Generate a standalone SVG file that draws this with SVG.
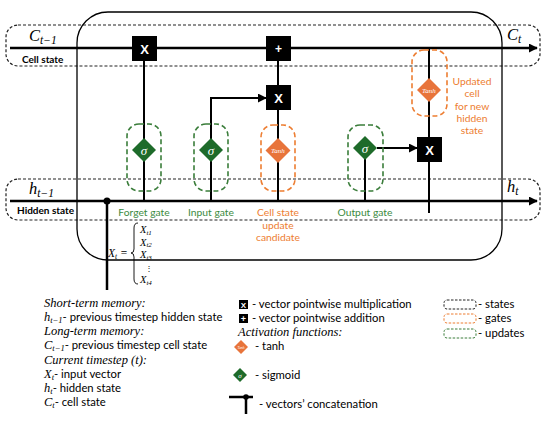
<svg xmlns="http://www.w3.org/2000/svg" width="550" height="423" viewBox="0 0 550 423">
<style>
.ln{stroke:#000;stroke-width:2;fill:none}
.tk{stroke:#000;stroke-width:2.5;fill:none}
.st{fill:none;stroke:#222;stroke-width:1.2;stroke-dasharray:3 2}
.gg{fill:none;stroke:#3a7d3a;stroke-width:1.6;stroke-dasharray:5 3}
.go{fill:none;stroke:#ed7d31;stroke-width:1.6;stroke-dasharray:5 3}
.bx{font-family:'Liberation Sans',sans-serif;font-weight:bold;fill:#fff;text-anchor:middle}
.m{font-family:'Liberation Serif',serif;font-style:italic}
.lab{font-family:Lato,'Liberation Sans',sans-serif}
.gt{fill:#3b8a3e}
.ot{fill:#ed7d31}
.dg{fill:#1e6b2a}
.do{fill:#e8743b}
.sg{font-family:'Liberation Serif',serif;font-style:italic;fill:#fff;text-anchor:middle}
</style>
<defs>
<marker id="ar" viewBox="0 0 10 10" refX="9" refY="5" markerWidth="9" markerHeight="9" markerUnits="userSpaceOnUse" orient="auto"><path d="M0,0L10,5L0,10z" fill="#000"/></marker>
</defs>

<g id="cell-state-region">
<rect class="st" x="6" y="25" width="534" height="41" rx="12"/>
<text class="m" x="29" y="41" font-size="16.5">C<tspan font-size="11.5" dy="3">t−1</tspan></text>
<text class="lab" x="22" y="63" font-size="10" font-weight="bold">Cell state</text>
<text class="m" x="507" y="40" font-size="16.5">C<tspan font-size="11.5" dy="3">t</tspan></text>
</g>
<g id="hidden-state-region">
<rect class="st" x="6" y="179" width="534" height="41" rx="12"/>
<text class="m" x="29" y="194" font-size="16.5">h<tspan font-size="11.5" dy="3">t−1</tspan></text>
<text class="lab" x="17" y="214" font-size="10" font-weight="bold">Hidden state</text>
<text class="m" x="507" y="192" font-size="16.5">h<tspan font-size="11.5" dy="3">t</tspan></text>
</g>
<g id="lstm-cell">
<rect x="77" y="12" width="425" height="248" rx="31" fill="none" stroke="#000" stroke-width="1.3"/>
</g>

<g id="connectors">
<line class="tk" x1="10" y1="48" x2="537" y2="48" marker-end="url(#ar)"/>
<line class="tk" x1="10" y1="201" x2="537" y2="201" marker-end="url(#ar)"/>
<line class="ln" x1="144" y1="60" x2="144" y2="201"/>
<polyline class="ln" points="211,201 211,98 266,98" marker-end="url(#ar)"/>
<line class="ln" x1="278" y1="48" x2="278" y2="201"/>
<line class="ln" x1="365" y1="148" x2="365" y2="201"/>
<line class="ln" x1="377" y1="148" x2="417" y2="148" marker-end="url(#ar)"/>
<line class="ln" x1="429" y1="48" x2="429" y2="213"/>
<line class="tk" x1="107" y1="201" x2="107" y2="290"/>
<circle cx="107" cy="201" r="3.5" fill="#000"/>
</g>

<g id="forget-mult">
<rect x="132" y="36" width="25" height="25" fill="#000"/>
<text class="bx" x="144.5" y="53.5" font-size="13">X</text>
</g>
<g id="add">
<rect x="266" y="36" width="25" height="25" fill="#000"/>
<text class="bx" x="278.5" y="53" font-size="12">+</text>
</g>
<g id="input-mult">
<rect x="266" y="85" width="25" height="25" fill="#000"/>
<text class="bx" x="278.5" y="102.5" font-size="13">X</text>
</g>
<g id="output-mult">
<rect x="417" y="137" width="25" height="25" fill="#000"/>
<text class="bx" x="429.5" y="154.5" font-size="13">X</text>
</g>

<g id="forget-gate">
<rect class="gg" x="127" y="124" width="34" height="67" rx="12"/>
<polygon class="dg" points="144,138 156,150 144,162 132,150"/>
<text class="sg" x="144" y="154.5" font-size="13">σ</text>
<text class="lab gt" x="144" y="216" font-size="10.3" text-anchor="middle">Forget gate</text>
</g>
<g id="input-gate">
<rect class="gg" x="194" y="124" width="34" height="67" rx="12"/>
<polygon class="dg" points="211,138 223,150 211,162 199,150"/>
<text class="sg" x="211" y="154.5" font-size="13">σ</text>
<text class="lab gt" x="211" y="216" font-size="10.3" text-anchor="middle">Input gate</text>
</g>
<g id="candidate-gate">
<rect class="go" x="261" y="125" width="34" height="66" rx="12"/>
<polygon class="do" points="278,138 290.5,150.5 278,163 265.5,150.5"/>
<text class="sg" x="278" y="153" font-size="7">Tanh</text>
<text class="lab ot" x="278" y="216" font-size="10.3" text-anchor="middle">Cell state</text>
<text class="lab ot" x="278" y="229" font-size="10.3" text-anchor="middle">update</text>
<text class="lab ot" x="278" y="241" font-size="10.3" text-anchor="middle">candidate</text>
</g>
<g id="output-gate">
<rect class="gg" x="348" y="125" width="35" height="66" rx="12"/>
<polygon class="dg" points="365,136 377,148 365,160 353,148"/>
<text class="sg" x="365" y="152.5" font-size="13">σ</text>
<text class="lab gt" x="365" y="216" font-size="10.3" text-anchor="middle">Output gate</text>
</g>
<g id="updated-cell">
<rect class="go" x="412" y="50" width="35" height="66" rx="12"/>
<polygon class="do" points="429,78 441,90 429,102 417,90"/>
<text class="sg" x="429" y="92.5" font-size="7">Tanh</text>
<g class="lab ot" font-size="10.3" text-anchor="middle">
<text x="472" y="85">Updated</text>
<text x="472" y="97">cell</text>
<text x="472" y="110">for new</text>
<text x="472" y="122">hidden</text>
<text x="472" y="134">state</text>
</g>
</g>

<g id="input-vector">
<text class="m" x="108" y="257" font-size="11.5">X<tspan font-size="7.5" dy="1.5">t</tspan><tspan dy="-1.5"> =</tspan></text>
<path d="M138,223 Q134,223 134,228 L134,249 Q134,253 131,253 Q134,253 134,257 L134,279 Q134,284 138,284" fill="none" stroke="#000" stroke-width="0.9"/>
<g class="m" font-size="10.5">
<text x="140" y="233">X<tspan font-size="7" dy="1.5">t1</tspan></text>
<text x="140" y="245.5">X<tspan font-size="7" dy="1.5">t2</tspan></text>
<text x="140" y="258">X<tspan font-size="7" dy="1.5">t3</tspan></text>
<text x="145" y="271" font-style="normal" font-size="8">⋮</text>
<text x="140" y="283">X<tspan font-size="7" dy="1.5">t4</tspan></text>
</g>
</g>

<g id="legend-memory" font-size="11.3">
<text class="m" x="44" y="307" font-size="12.5">Short-term memory:</text>
<text x="44" y="321"><tspan class="m" font-size="12.5">h</tspan><tspan class="m" font-size="8.5" dy="2">t−1</tspan><tspan class="lab" dy="-2">- previous timestep hidden state</tspan></text>
<text class="m" x="44" y="335" font-size="12.5">Long-term memory:</text>
<text x="44" y="349"><tspan class="m" font-size="12.5">C</tspan><tspan class="m" font-size="8.5" dy="2">t−1</tspan><tspan class="lab" dy="-2">- previous timestep cell state</tspan></text>
<text class="m" x="44" y="364" font-size="12.5">Current timestep (t):</text>
<text x="44" y="378"><tspan class="m" font-size="12.5">X</tspan><tspan class="m" font-size="8.5" dy="2">t</tspan><tspan class="lab" dy="-2">- input vector</tspan></text>
<text x="44" y="392"><tspan class="m" font-size="12.5">h</tspan><tspan class="m" font-size="8.5" dy="2">t</tspan><tspan class="lab" dy="-2">- hidden state</tspan></text>
<text x="44" y="406"><tspan class="m" font-size="12.5">C</tspan><tspan class="m" font-size="8.5" dy="2">t</tspan><tspan class="lab" dy="-2">- cell state</tspan></text>
</g>

<g id="legend-ops">
<rect x="239" y="300" width="9" height="9" fill="#000"/>
<text class="bx" x="243.5" y="308" font-size="8">X</text>
<text class="lab" x="252" y="308" font-size="11.3">- vector pointwise multiplication</text>
<rect x="239" y="314" width="9" height="9" fill="#000"/>
<text class="bx" x="243.5" y="322" font-size="9">+</text>
<text class="lab" x="252" y="322" font-size="11.3">- vector pointwise addition</text>
<text class="m" x="238" y="336" font-size="12.5">Activation functions:</text>
<polygon class="do" points="241,340 248,347 241,354 234,347"/>
<text class="sg" x="241" y="348.5" font-size="3.5">Tanh</text>
<text class="lab" x="255" y="350" font-size="11.3">- tanh</text>
<polygon class="dg" points="240,368 247,375 240,382 233,375"/>
<text class="sg" x="240" y="377.5" font-size="7">σ</text>
<text class="lab" x="255" y="379" font-size="11.3">- sigmoid</text>
<line class="tk" x1="229" y1="397" x2="253" y2="397"/>
<line class="tk" x1="246" y1="397" x2="246" y2="414"/>
<circle cx="246" cy="397" r="2.8" fill="#000"/>
<text class="lab" x="259" y="408" font-size="11.3">- vectors’ concatenation</text>
</g>

<g id="legend-styles">
<rect x="444" y="300" width="32" height="9" rx="3" fill="none" stroke="#222" stroke-width="1" stroke-dasharray="2.5 1.5"/>
<text class="lab" x="478" y="308" font-size="11.3">- states</text>
<rect x="444" y="314" width="32" height="9" rx="3" fill="none" stroke="#ed7d31" stroke-width="1" stroke-dasharray="2.5 1.5"/>
<text class="lab" x="478" y="322" font-size="11.3">- gates</text>
<rect x="444" y="329" width="32" height="9" rx="3" fill="none" stroke="#3a7d3a" stroke-width="1" stroke-dasharray="2.5 1.5"/>
<text class="lab" x="478" y="337" font-size="11.3">- updates</text>
</g>
</svg>
